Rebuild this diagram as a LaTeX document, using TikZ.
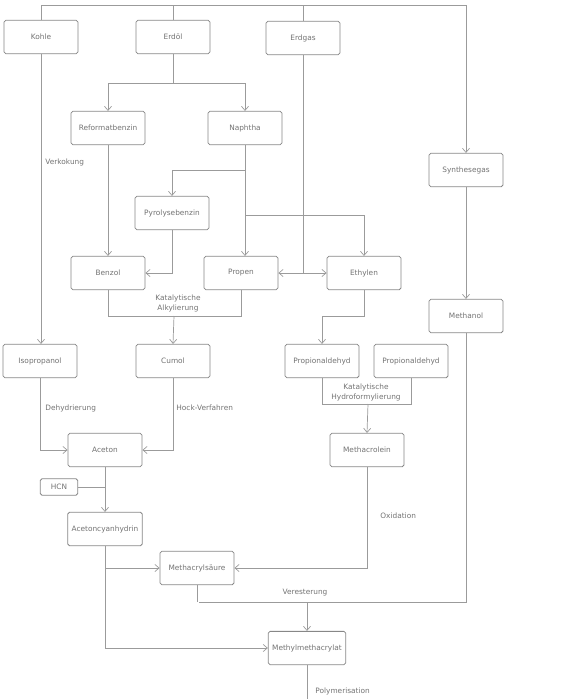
\documentclass[tikz,border=0pt]{standalone}
\usepackage{fontspec}
\setmainfont{DejaVu Sans}
\usetikzlibrary{arrows.meta, positioning, calc}

\definecolor{boxgray}{RGB}{135,135,135}
\definecolor{linegray}{RGB}{155,155,155}
\definecolor{txtgray}{RGB}{115,115,115}

\begin{document}
\begin{tikzpicture}[
  x = 0.03cm, y = -0.03cm,
  stoff/.style = {draw, rectangle, rounded corners=1.5pt,
                  fill=white, draw=boxgray, line width=0.7pt,
                  minimum height=1.0cm, minimum width=2.22cm,
                  align=center, text=txtgray,
                  font=\fontsize{6.3}{8.5}\selectfont},
  klein/.style = {stoff, minimum height=0.5cm, minimum width=1.12cm},
  arr/.style   = {-{Straight Barb[length=3.5pt, width=6pt]},
                  draw=linegray, line width=0.6pt},
  verb/.style  = {draw=linegray, line width=0.6pt},
  lbl/.style   = {font=\fontsize{6.3}{8.5}\selectfont,
                  text=txtgray, inner sep=1pt, align=center},
]
\useasboundingbox (0,0) rectangle (587,699);

%── Rohstoffe (oben) ──────────────────────────────────────────────────────
\node[stoff] (kohle)     at (41,37)   {Kohle};
\node[stoff] (erdoel)    at (173,37)  {Erdöl};
\node[stoff] (erdgas)    at (303,38)  {Erdgas};

%── Zwischenprodukte ──────────────────────────────────────────────────────
\node[stoff] (reformat)  at (108,128) {Reformatbenzin};
\node[stoff] (naphtha)   at (245,128) {Naphtha};
\node[stoff] (synth)     at (466,170) {Synthesegas};
\node[stoff] (pyro)      at (172,213) {Pyrolysebenzin};
\node[stoff] (benzol)    at (108,273) {Benzol};
\node[stoff] (propen)    at (241,273) {Propen};
\node[stoff] (ethylen)   at (364,273) {Ethylen};
\node[stoff] (methanol)  at (466,316) {Methanol};
\node[stoff] (iso)       at (40,361)  {Isopropanol};
\node[stoff] (cumol)     at (173,361) {Cumol};
\node[stoff] (prop1)     at (322,361) {Propionaldehyd};
\node[stoff] (prop2)     at (411,361) {Propionaldehyd};
\node[stoff] (aceton)    at (105,450) {Aceton};
\node[stoff] (macrolein) at (367,450) {Methacrolein};
\node[klein] (hcn)       at (59,487)  {HCN};
\node[stoff] (ach)       at (105,529) {Acetoncyanhydrin};
\node[stoff] (msaeure)   at (197,568) {Methacrylsäure};
\node[stoff] (mma)       at (307,648) {Methylmethacrylat};

%── Hilfspunkte ───────────────────────────────────────────────────────────
\coordinate (oben)    at (466,5);
\coordinate (erdsplit) at (173,83);
\coordinate (nsplitA) at (245,170);
\coordinate (nsplitB) at (245,215);
\coordinate (alk)     at (174,316);
\coordinate (ethkink) at (322,316);
\coordinate (hyd)     at (368,404);
\coordinate (esterL)  at (199,602);
\coordinate (unten)   at (307,699);

%── Verbindungen oben ─────────────────────────────────────────────────────
\draw[arr]  (kohle.north) |- (oben) -- (synth.north);
\draw[verb] (erdoel.north) -- (erdoel.north |- oben);
\draw[verb] (erdgas.north) -- (erdgas.north |- oben);
\draw[arr]  (erdoel.south) -- (erdsplit) -| (reformat.north);
\draw[arr]  (erdsplit) -| (naphtha.north);

%── Naphtha / Erdgas ──────────────────────────────────────────────────────
\draw[arr] (naphtha.south) -- (naphtha.south |- propen.north);
\draw[arr] (nsplitA) -| (pyro.north);
\draw[arr] (nsplitB) -| (ethylen.north);
\draw[arr] (reformat) -- (benzol);
\draw[arr] (pyro.south) |- (benzol.east);
\draw[arr] (erdgas.south) |- (propen.east);
\draw[arr] (erdgas.south) |- (ethylen.west);
\draw[arr] (synth) -- (methanol);

%── Alkylierung / Hydroformylierung ───────────────────────────────────────
\draw[verb] (benzol.south) |- (propen.south |- alk) -- (propen.south);
\draw[arr]  (alk) -- (cumol.north);
\node[lbl] (lbAlk) at (178,303) {Katalytische\\Alkylierung};
\draw[arr]  (ethylen.south) |- (ethkink) -- (prop1.north);
\draw[verb] (prop1.south) |- (prop2.south |- hyd) -- (prop2.south);
\draw[arr]  (hyd) -- (macrolein.north);
\node[lbl] (lbHydro) at (366,392) {Katalytische\\Hydroformylierung};

%── Aceton-Weg ────────────────────────────────────────────────────────────
\draw[arr] (kohle.south) -- (kohle.south |- iso.north);
\node[lbl, anchor=west] (lbVerk) at (44,162) {Verkokung};
\draw[arr] (iso.south) |- (aceton.west);
\node[lbl, anchor=west] (lbDehyd) at (44,408) {Dehydrierung};
\draw[arr] (cumol.south) |- (aceton.east);
\node[lbl, anchor=west] (lbHock) at (175,408) {Hock-Verfahren};
\draw[arr]  (aceton) -- (ach);
\draw[verb] (hcn.east) -- (aceton.south |- hcn.east);

%── Methacrylsäure / MMA ──────────────────────────────────────────────────
\draw[arr] (ach.south) |- (mma.west);
\draw[arr] (ach.south |- msaeure.west) -- (msaeure.west);
\draw[arr] (macrolein.south) |- (msaeure.east);
\node[lbl, anchor=west] (lbOxid) at (379,516) {Oxidation};
\draw[verb] (msaeure.south) -- (msaeure.south |- esterL);
\draw[verb] (methanol.south) |- (esterL);
\draw[arr]  (mma.north |- esterL) -- (mma.north);
\node[lbl] (lbEster) at (305,593) {Veresterung};
\draw[verb] (mma.south) -- (unten);
\node[lbl, anchor=west] (lbPoly) at (314,691) {Polymerisation};

\end{tikzpicture}
\end{document}
